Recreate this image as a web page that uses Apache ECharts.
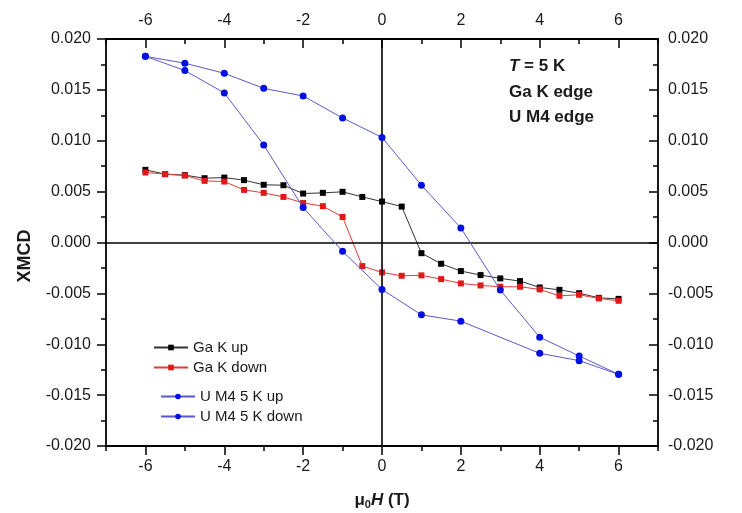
<!DOCTYPE html>
<html>
<head>
<meta charset="utf-8">
<script src="https://cdn.jsdelivr.net/npm/echarts@6/dist/echarts.min.js"></script>
<style>html,body{margin:0;padding:0;background:#fff}#c{width:742px;height:513px}</style>
</head>
<body>
<div id="c"></div>
<script>
// ---- data ----
var gaX = [-6,-5.5,-5,-4.5,-4,-3.5,-3,-2.5,-2,-1.5,-1,-0.5,0,0.5,1,1.5,2,2.5,3,3.5,4,4.5,5,5.5,6];
var gaUp = [0.00714,0.00672,0.00662,0.00632,0.00638,0.00613,0.00567,0.00563,0.00481,0.00488,0.00498,0.00448,0.00402,0.00353,-0.00105,-0.00209,-0.00281,-0.0032,-0.00353,-0.00379,-0.00442,-0.00465,-0.00498,-0.00544,-0.00554];
var gaDown = [0.00688,0.00672,0.00658,0.00606,0.00599,0.00517,0.00488,0.00448,0.00389,0.00357,0.00251,-0.00232,-0.00294,-0.00327,-0.00323,-0.0036,-0.00402,-0.00422,-0.00435,-0.00435,-0.00461,-0.00524,-0.00514,-0.0055,-0.00573];
var uUpX = [-6,-5,-4,-3,-2,-1,0,1,2,3,4,5,6];
var uUp = [0.0183,0.01762,0.01663,0.01515,0.0144,0.01224,0.01033,0.00563,0.00143,-0.00468,-0.00931,-0.01115,-0.01296];
var uDownX = [-6,-5,-4,-3,-2,-1,0,1,2,4,5,6];
var uDown = [0.0183,0.0169,0.0147,0.00958,0.00343,-0.00087,-0.00461,-0.00711,-0.00773,-0.01089,-0.01161,-0.01296];
var xMajor = [-6,-4,-2,0,2,4,6];
var xMinor = [-7,-5,-3,-1,1,3,5,7];

function zip(xs, ys){ return xs.map(function(x,i){ return [x, ys[i]]; }); }

var FONT = 'Liberation Sans, Arial, sans-serif';
var TXT = '#1a1a1a';

function xAx(pos, major){
  return {
    type:'value', position:pos, min:-7, max:7,
    axisLine:{show:major, onZero:false, lineStyle:{color:'#000', width:1.8}},
    axisTick:{show:true, inside:pos==='top', length: major?9:5, customValues: major?xMajor:xMinor, lineStyle:{color:'#000', width:1.5}},
    axisLabel:{show:major, customValues: xMajor, margin: pos==='top'?10:13, fontSize:16, color:TXT, fontFamily:FONT},
    splitLine:{show:false}
  };
}
function yAx(pos){
  return {
    type:'value', position:pos, min:-0.02, max:0.02, interval:0.005,
    axisLine:{show:true, onZero:false, lineStyle:{color:'#000', width:1.8}},
    axisTick:{show:true, inside:pos==='right', length:9, lineStyle:{color:'#000', width:1.5}},
    minorTick:{show:true, splitNumber:2, length:5, lineStyle:{color:'#000', width:1.5}},
    axisLabel:{margin: pos==='left'?15:10, fontSize:16, color:TXT, fontFamily:FONT,
      formatter:function(v){ return v.toFixed(3); }},
    splitLine:{show:false}
  };
}

var chart = echarts.init(document.getElementById('c'), null, {renderer:'canvas'});
chart.setOption({
  animation:false,
  backgroundColor:'#fff',
  grid:{left:106, right:84, top:39, bottom:67, containLabel:false},
  xAxis:[xAx('bottom',true), xAx('bottom',false), xAx('top',true), xAx('top',false)],
  yAxis:[yAx('left'), yAx('right')],
  legend:[
    {data:['Ga K up','Ga K down'], orient:'vertical', left:148, top:335, itemWidth:34, itemHeight:7, itemGap:5,
     textStyle:{fontSize:15, color:TXT, fontFamily:FONT}},
    {data:['U M4 5 K up','U M4 5 K down'], orient:'vertical', left:155, top:384, itemWidth:34, itemHeight:7, itemGap:5,
     textStyle:{fontSize:15, color:TXT, fontFamily:FONT}}
  ],
  graphic:[
    {type:'text', left:509, top:58, style:{rich:{i:{fontStyle:'italic', fontWeight:'bold', fontSize:17, fontFamily:FONT, fill:TXT}, b:{fontWeight:'bold', fontSize:17, fontFamily:FONT, fill:TXT}}, text:'{i|T}{b| = 5 K}'}},
    {type:'text', left:509, top:84, style:{text:'Ga K edge', fontWeight:'bold', fontSize:17, fontFamily:FONT, fill:TXT}},
    {type:'text', left:509, top:109, style:{text:'U M4 edge', fontWeight:'bold', fontSize:17, fontFamily:FONT, fill:TXT}},
    {type:'text', x:25, y:256, rotation:Math.PI/2, style:{text:'XMCD', fontWeight:'bold', fontSize:18, fontFamily:FONT, fill:TXT, align:'center', verticalAlign:'middle'}},
    {type:'text', x:382, y:500, style:{align:'center', verticalAlign:'middle',
      rich:{m:{fontSize:17, fontWeight:'bold', fontFamily:FONT, fill:TXT}, s:{fontSize:11, fontWeight:'bold', fontFamily:FONT, fill:TXT, padding:[10,0,0,0]}, h:{fontSize:17, fontWeight:'bold', fontStyle:'italic', fontFamily:FONT, fill:TXT}},
      text:'{m|\u03bc}{s|0}{h|H}{m| (T)}'}}
  ],
  series:[
    {name:'Ga K up', type:'line', data:zip(gaX, gaUp), symbol:'rect', symbolSize:6, showAllSymbol:true,
     lineStyle:{color:'#333', width:1}, itemStyle:{color:'#000'}, z:3,
     markLine:{silent:true, symbol:'none', label:{show:false}, lineStyle:{color:'#000', width:1.6, type:'solid'},
       data:[{xAxis:0},{yAxis:0}]}},
    {name:'Ga K down', type:'line', data:zip(gaX, gaDown), symbol:'rect', symbolSize:6, showAllSymbol:true,
     lineStyle:{color:'#e03a3a', width:1}, itemStyle:{color:'#e01818'}, z:4},
    {name:'U M4 5 K up', type:'line', data:zip(uUpX, uUp), symbol:'circle', symbolSize:7, showAllSymbol:true,
     lineStyle:{color:'#5a5ac8', width:1}, itemStyle:{color:'#0010e0'}, z:5},
    {name:'U M4 5 K down', type:'line', data:zip(uDownX, uDown), symbol:'circle', symbolSize:7, showAllSymbol:true,
     lineStyle:{color:'#5a5ac8', width:1}, itemStyle:{color:'#0010e0'}, z:5}
  ]
});
</script>
</body>
</html>
